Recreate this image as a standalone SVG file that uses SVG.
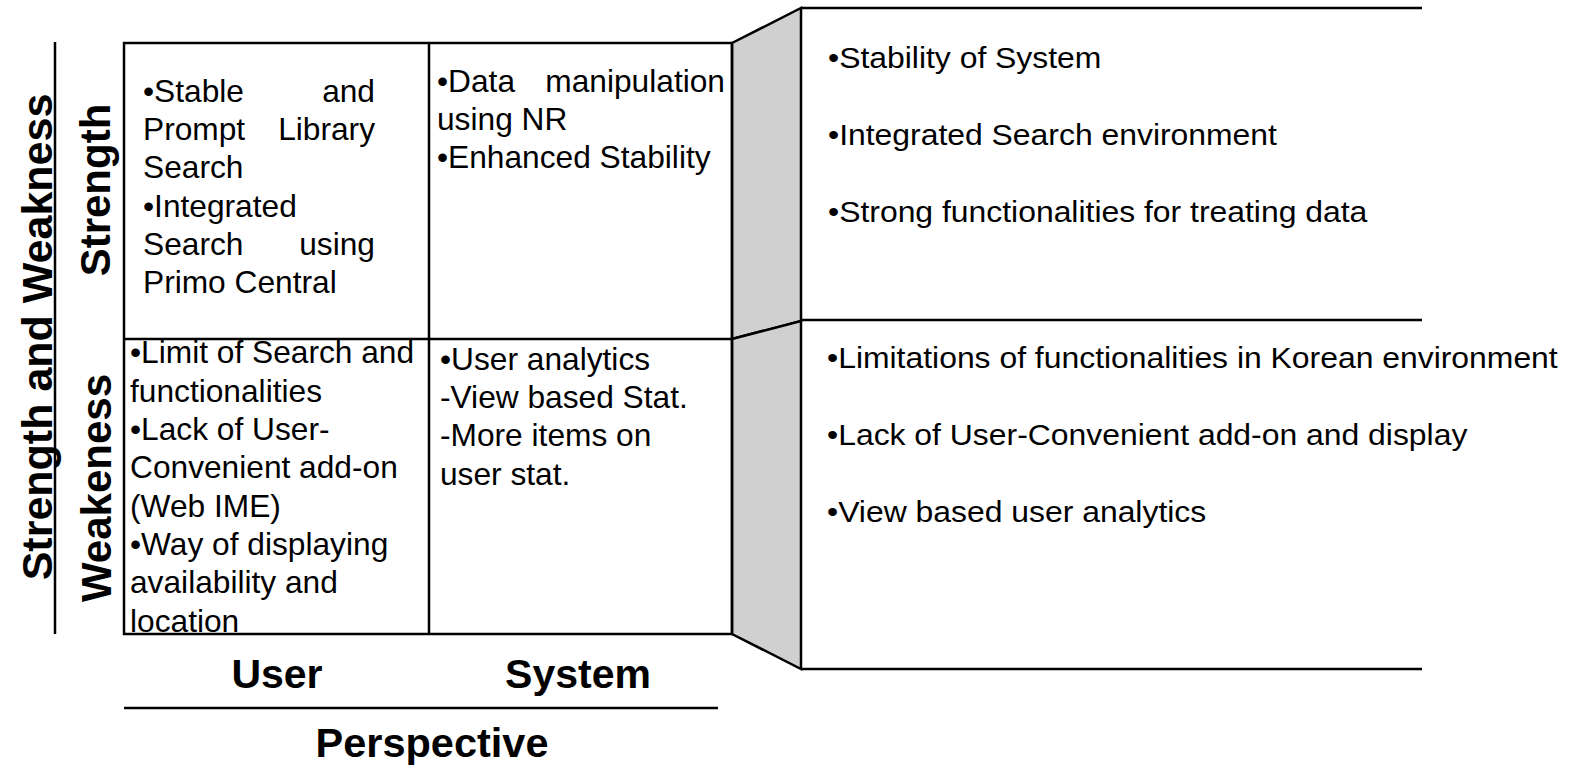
<svg xmlns="http://www.w3.org/2000/svg" width="1572" height="768" viewBox="0 0 1572 768">
<style>
.t{font-family:"Liberation Sans",Arial,sans-serif;font-size:31.7px;fill:#000}
.r{font-family:"Liberation Sans",Arial,sans-serif;font-size:29px;fill:#000}
.b{font-family:"Liberation Sans",Arial,sans-serif;font-weight:bold;fill:#000}
.ln{stroke:#000;stroke-width:2.5;fill:none}
.gr{fill:#d0d0d0;stroke:#000;stroke-width:2.5;stroke-linejoin:miter}
</style>
<rect width="1572" height="768" fill="#fff"/>
<g id="axis-labels">
<text class="b" font-size="43" text-anchor="middle" transform="translate(52,337) rotate(-90)">Strength and Weakness</text>
<text class="b" font-size="42" text-anchor="middle" transform="translate(110,190) rotate(-90)">Strength</text>
<text class="b" font-size="42" text-anchor="middle" transform="translate(111,488) rotate(-90)">Weakeness</text>
<text class="b" font-size="41" text-anchor="middle" x="277" y="688">User</text>
<text class="b" font-size="41" text-anchor="middle" x="578" y="688">System</text>
<text class="b" font-size="41.5" text-anchor="middle" x="432" y="757">Perspective</text>
</g>
<g id="connectors">
<line class="ln" x1="55" y1="42" x2="55" y2="634"/>
<line class="ln" x1="124" y1="708" x2="718" y2="708"/>
</g>
<g id="side-panels">
<polygon class="gr" points="732,43 801,8 801,321 732,339"/>
<polygon class="gr" points="732,339 801,321 801,669 732,634"/>
</g>
<g id="grid">
<rect class="ln" x="124" y="43" width="608" height="591"/>
<line class="ln" x1="429" y1="43" x2="429" y2="634"/>
<line class="ln" x1="124" y1="339" x2="732" y2="339"/>
</g>
<g id="cell-user-strength">
<text class="t" x="143" y="102">•Stable</text>
<text class="t" x="375" y="102" text-anchor="end">and</text>
<text class="t" x="143" y="140">Prompt</text>
<text class="t" x="375" y="140" text-anchor="end">Library</text>
<text class="t" x="143" y="178">Search</text>
<text class="t" x="143" y="217">•Integrated</text>
<text class="t" x="143" y="255">Search</text>
<text class="t" x="375" y="255" text-anchor="end">using</text>
<text class="t" x="143" y="293">Primo Central</text>
</g>
<g id="cell-system-strength">
<text class="t" x="437" y="92">•Data</text>
<text class="t" x="725" y="92" text-anchor="end">manipulation</text>
<text class="t" x="437" y="130">using NR</text>
<text class="t" x="437" y="168">•Enhanced Stability</text>
</g>
<g id="cell-user-weakness">
<text class="t" x="130" y="363">•Limit of Search and</text>
<text class="t" x="130" y="402">functionalities</text>
<text class="t" x="130" y="440">•Lack of User-</text>
<text class="t" x="130" y="478">Convenient add-on</text>
<text class="t" x="130" y="517">(Web IME)</text>
<text class="t" x="130" y="555">•Way of displaying</text>
<text class="t" x="130" y="593">availability and</text>
<text class="t" x="130" y="632">location</text>
</g>
<g id="cell-system-weakness">
<text class="t" x="440" y="370">•User analytics</text>
<text class="t" x="440" y="408">-View based Stat.</text>
<text class="t" x="440" y="446">-More items on</text>
<text class="t" x="440" y="485">user stat.</text>
</g>
<g id="panel-strength">
<line class="ln" x1="801" y1="8" x2="1422" y2="8"/>
<line class="ln" x1="801" y1="320" x2="1422" y2="320"/>
<g transform="translate(828,0) scale(1.1,1)">
<text class="r" x="0" y="68">•Stability of System</text>
<text class="r" x="0" y="145">•Integrated Search environment</text>
<text class="r" x="0" y="222">•Strong functionalities for treating data</text>
</g>
</g>
<g id="panel-weakness">
<line class="ln" x1="801" y1="669" x2="1422" y2="669"/>
<g transform="translate(827,0) scale(1.1,1)">
<text class="r" x="0" y="368">•Limitations of functionalities in Korean environment</text>
<text class="r" x="0" y="445">•Lack of User-Convenient add-on and display</text>
<text class="r" x="0" y="522">•View based user analytics</text>
</g>
</g>
</svg>
